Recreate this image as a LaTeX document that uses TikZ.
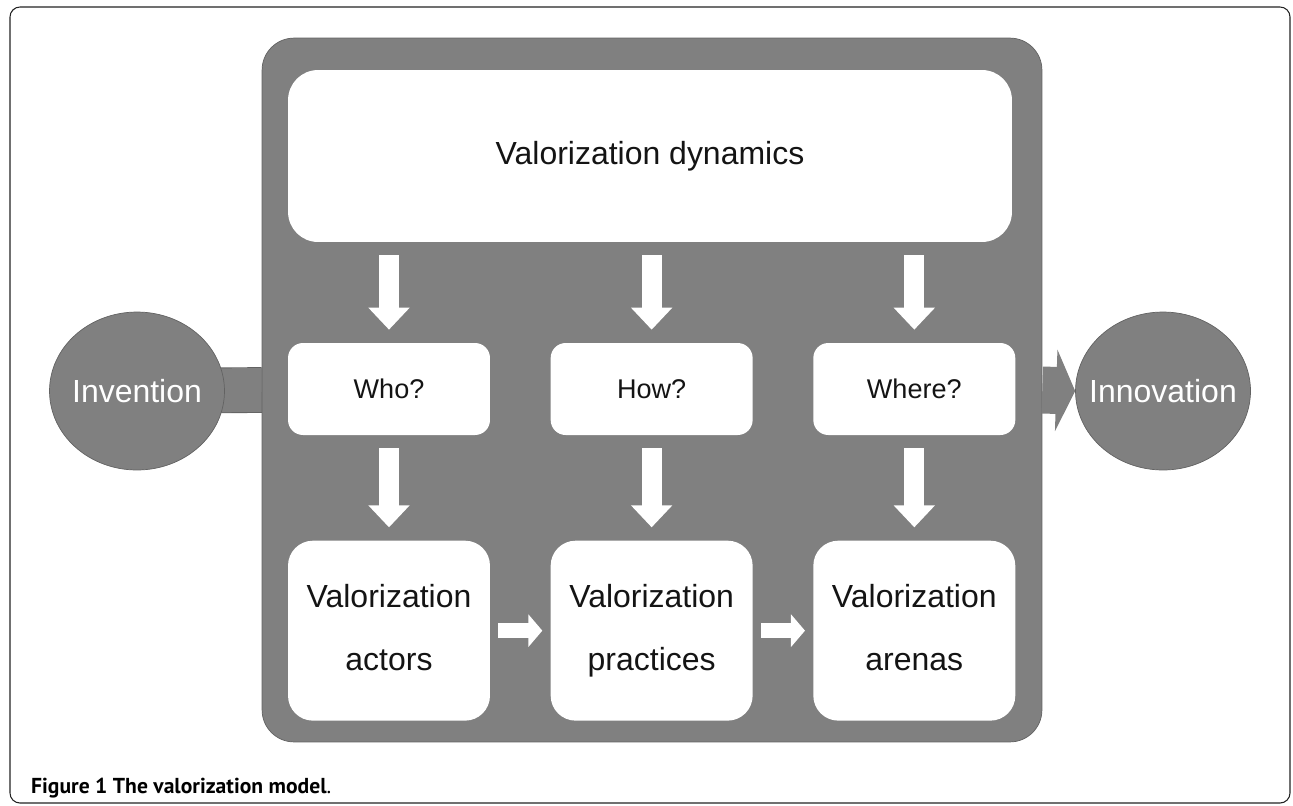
\documentclass[tikz,border=0pt]{standalone}
\usepackage{fontspec}
\setmainfont{Liberation Sans}
\newfontfamily\captionfont{PT Sans}
\usetikzlibrary{
  arrows.meta,
  positioning,
  calc,
  backgrounds,
  shapes.geometric
}
\definecolor{valGray}{RGB}{128,128,128}
\definecolor{valEdge}{RGB}{98,98,98}
\definecolor{valText}{RGB}{20,20,20}
\definecolor{valFrame}{RGB}{35,35,35}
\tikzset{
  valbox/.style={
    fill=white,
    draw=none,
    align=center,
    text=valText,
    inner sep=0pt
  },
  askbox/.style={
    valbox,
    minimum width=4.04cm,
    minimum height=1.84cm,
    rounded corners=0.3cm,
    font=\fontsize{15.4}{18}\selectfont
  },
  partbox/.style={
    valbox,
    minimum width=4.04cm,
    minimum height=3.6cm,
    rounded corners=0.5cm,
    font=\fontsize{18.2}{35.9}\selectfont
  },
  modelbox/.style={
    fill=valGray,
    draw=valEdge,
    thin,
    rounded corners=0.64cm,
    minimum width=15.6cm,
    minimum height=14.08cm
  },
  endpoint/.style={
    ellipse,
    fill=valGray,
    draw=valEdge,
    thin,
    inner xsep=-0.25cm,
    inner ysep=0pt,
    minimum width=3.5cm,
    minimum height=3.16cm,
    text=white,
    font=\fontsize{18.2}{22}\selectfont
  },
  downarrow/.style={
    -{Triangle[length=0.44cm,width=0.8cm]},
    line width=0.4cm,
    draw=white,
    shorten <=0.26cm,
    shorten >=0.26cm
  },
  sidearrow/.style={
    -{Triangle[length=0.28cm,width=0.64cm]},
    line width=0.3cm,
    draw=white,
    shorten <=0.16cm,
    shorten >=0.16cm
  },
  inlink/.style={
    draw=valEdge,
    line width=0.5pt,
    double=valGray,
    double distance=0.88cm
  },
  outarrow/.style={
    -{Triangle[length=0.38cm,width=1.62cm]},
    line width=0.94cm,
    draw=valGray
  },
  framebox/.style={
    draw=valFrame,
    line width=0.6pt,
    rounded corners=0.2cm
  }
}

\begin{document}
\begin{tikzpicture}[x=0.02cm, y=-0.02cm]
  \useasboundingbox (0,0) rectangle (1293,805);
  \draw[framebox] (10,7) rectangle (1290,803);

  \node[modelbox] (model) at (652,390) {};

  \node[valbox, minimum width=14.48cm, minimum height=3.44cm, rounded corners=0.6cm,
    font=\fontsize{18.2}{22}\selectfont] (dyn) at (650,156) {Valorization dynamics};

  \node[askbox] (who) at (389,389) {Who?};
  \node[askbox, right=1.2cm of who] (how) {How?};
  \node[askbox, right=1.2cm of how] (where) {Where?};

  \node[partbox, below=2.1cm of who] (actors) {Valorization\\actors\vphantom{p}};
  \node[partbox, below=2.1cm of how] (practices) {Valorization\\practices};
  \node[partbox, below=2.1cm of where] (arenas) {Valorization\\arenas\vphantom{p}};

  \node[endpoint] (invention) at (137,391) {Invention};
  \node[endpoint] (innovation) at (1163,391) {Innovation};

  \begin{scope}[on background layer]
    \draw[inlink] (invention.center) -- (model.west);
  \end{scope}

  \foreach \ask/\part in {who/actors, how/practices, where/arenas} {
    \draw[downarrow] (dyn.south -| \ask.north) -- (\ask.north);
    \draw[downarrow] (\ask.south) -- (\part.north);
  }
  \draw[sidearrow] (actors.east) -- (practices.west);
  \draw[sidearrow] (practices.east) -- (arenas.west);

  \draw[outarrow] (model.east) -- (innovation.west);

  \node[anchor=base west, font=\captionfont\fontsize{12.3}{14}\selectfont] (caption) at (25,793)
    {\textbf{Figure 1 The valorization model}.};
\end{tikzpicture}
\end{document}
